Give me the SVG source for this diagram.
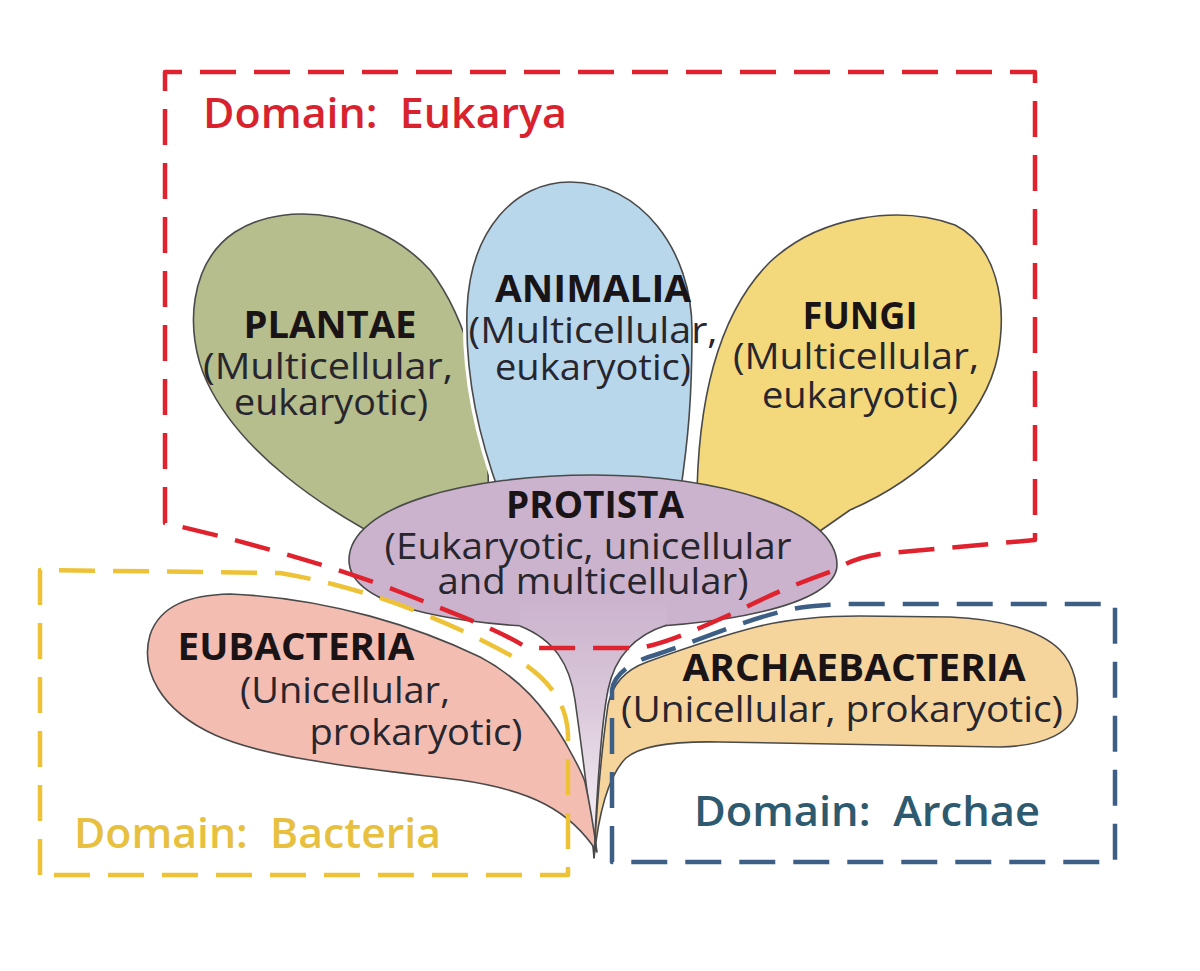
<svg xmlns="http://www.w3.org/2000/svg" width="1200" height="971" viewBox="0 0 1200 971">
<defs>
<linearGradient id="stemGrad" x1="0" y1="600" x2="0" y2="858" gradientUnits="userSpaceOnUse">
<stop offset="0" stop-color="#cbb3cd"/>
<stop offset="0.45" stop-color="#dccbdc"/>
<stop offset="1" stop-color="#fbf7fb"/>
</linearGradient>
<style>
.petal{stroke:#4a4a4a;stroke-width:1.6;stroke-linejoin:round}
.halo{fill:none;stroke:#ffffff;stroke-width:8}
.title{font-family:"Open Sans","Liberation Sans",Arial,sans-serif;font-weight:bold;font-size:38px;fill:#1a1416;text-anchor:middle}
.sub{font-family:"Open Sans","Liberation Sans",Arial,sans-serif;font-size:36px;fill:#27262f;text-anchor:middle}
.dom{font-family:"Open Sans","Liberation Sans",Arial,sans-serif;font-weight:600;font-size:42px;white-space:pre}
.box{fill:none;stroke-width:4.5;stroke-dasharray:36 18;stroke-linejoin:round}
</style>
</defs>
<rect x="0" y="0" width="1200" height="971" fill="#ffffff"/>

<g id="plantae">
<path class="petal" fill="#b5be8c" d="M 400,548 C 320,508 240,452 207,382 C 183,330 190,262 235,232 C 290,197 380,215 430,270 C 470,322 486,400 488,470 L 490,545 Z"/>
<text class="title" x="330" y="338" textLength="173" lengthAdjust="spacingAndGlyphs">PLANTAE</text>
<text class="sub" x="328" y="379" textLength="250" lengthAdjust="spacingAndGlyphs">(Multicellular,</text>
<text class="sub" x="331" y="415" textLength="194" lengthAdjust="spacingAndGlyphs">eukaryotic)</text>
</g>

<g id="fungi">
<path class="petal" fill="#f3d87c" d="M 697,525 C 695,420 712,320 770,262 C 820,215 900,205 955,225 C 995,245 1008,300 998,355 C 985,420 920,480 850,510 L 800,545 Z"/>
<text class="title" x="860" y="329" textLength="115" lengthAdjust="spacingAndGlyphs">FUNGI</text>
<text class="sub" x="856" y="369" textLength="246" lengthAdjust="spacingAndGlyphs">(Multicellular,</text>
<text class="sub" x="860" y="408" textLength="196" lengthAdjust="spacingAndGlyphs">eukaryotic)</text>
</g>

<g id="animalia">
<path class="halo" d="M 500,495 C 480,440 465,380 467,310 C 470,230 515,182 570,182 C 640,182 692,250 692,330 C 692,400 688,440 680,495"/>
<path class="petal" fill="#b9d7eb" d="M 500,495 C 480,440 465,380 467,310 C 470,230 515,182 570,182 C 640,182 692,250 692,330 C 692,400 688,440 680,495 Z"/>
<text class="title" x="593" y="302" textLength="196" lengthAdjust="spacingAndGlyphs">ANIMALIA</text>
<text class="sub" x="593" y="343" textLength="249" lengthAdjust="spacingAndGlyphs">(Multicellular,</text>
<text class="sub" x="593" y="380" textLength="196" lengthAdjust="spacingAndGlyphs">eukaryotic)</text>
</g>

<g id="protista">
<path class="petal" fill="#cbb3cd" d="M 349,560 C 349,505 470,475 593,475 C 720,475 837,510 837,565 C 837,605 720,628 593,628 C 470,628 349,610 349,560 Z"/>
<path fill="url(#stemGrad)" d="M 520,626 C 555,640 570,665 575,700 C 582,750 590,810 594,858 C 597,790 602,720 608,690 C 615,655 635,635 667,625 L 667,600 L 520,600 Z"/>
<path fill="none" stroke="#4a4a4a" stroke-width="1.6" d="M 520,626 C 555,640 570,665 575,700 C 582,750 590,810 594,858"/>
<path fill="none" stroke="#4a4a4a" stroke-width="1.6" d="M 594,858 C 597,790 602,720 608,690 C 615,655 635,635 667,625"/>
<text class="title" x="595" y="518" textLength="178" lengthAdjust="spacingAndGlyphs">PROTISTA</text>
<text class="sub" x="588" y="559" textLength="407" lengthAdjust="spacingAndGlyphs">(Eukaryotic, unicellular</text>
<text class="sub" x="593" y="594" textLength="311" lengthAdjust="spacingAndGlyphs">and multicellular)</text>
</g>

<g id="eubacteria">
<path class="petal" fill="#f3bdb2" d="M 597,852 C 570,810 530,790 460,780 C 380,770 270,760 215,735 C 160,710 140,670 150,635 C 160,605 190,595 230,594 C 330,598 420,628 480,657 C 520,678 545,708 565,742 C 575,760 582,772 585,782 C 590,805 594,830 597,852 Z"/>
<text class="title" x="296" y="660" textLength="237" lengthAdjust="spacingAndGlyphs">EUBACTERIA</text>
<text class="sub" x="345" y="703" textLength="210" lengthAdjust="spacingAndGlyphs">(Unicellular,</text>
<text class="sub" x="416" y="745" textLength="213" lengthAdjust="spacingAndGlyphs">prokaryotic)</text>
</g>

<g id="archaebacteria">
<path class="petal" fill="#f6d59d" d="M 594,858 C 597,800 603,740 608,705 C 612,685 625,670 647,662 C 680,650 720,636 760,626 C 790,619 820,616 860,616 L 950,617 C 1000,619 1040,630 1060,650 C 1075,665 1079,690 1077,708 C 1074,732 1045,746 1000,747 L 720,742 C 670,741 640,746 626,758 C 606,778 598,820 594,858 Z"/>
<text class="title" x="854" y="681" textLength="343" lengthAdjust="spacingAndGlyphs">ARCHAEBACTERIA</text>
<text class="sub" x="842" y="722" textLength="442" lengthAdjust="spacingAndGlyphs">(Unicellular, prokaryotic)</text>
</g>

<g id="connectors">
<path class="box" stroke="#e0222e" d="M 165,523 L 165,72 L 1035,72 L 1035,540 L 880,554 C 860,557 848,562 835,570 C 800,582 770,595 740,610 C 700,628 670,642 640,648 L 527,648 C 500,630 450,612 400,592 C 330,565 240,540 165,523 Z"/>
<path class="box" stroke="#eec236" d="M 40,875 L 40,570 L 280,573 C 370,588 450,622 510,655 C 545,675 567,700 568,735 L 568,875 Z"/>
<path class="box" stroke="#3d5f85" d="M 612,862 L 612,690 C 614,675 630,662 655,655 C 700,640 740,622 780,612 C 800,606 830,604 860,604 L 1115,604 L 1115,862 Z"/>
</g>

<g id="domains">
<text class="dom" xml:space="preserve" x="203" y="128" fill="#d8232f" textLength="364" lengthAdjust="spacingAndGlyphs">Domain:  Eukarya</text>
<text class="dom" xml:space="preserve" x="74" y="848" fill="#e8c03f" textLength="367" lengthAdjust="spacingAndGlyphs">Domain:  Bacteria</text>
<text class="dom" xml:space="preserve" x="694" y="826" fill="#2d5a6e" textLength="346" lengthAdjust="spacingAndGlyphs">Domain:  Archae</text>
</g>
</svg>
